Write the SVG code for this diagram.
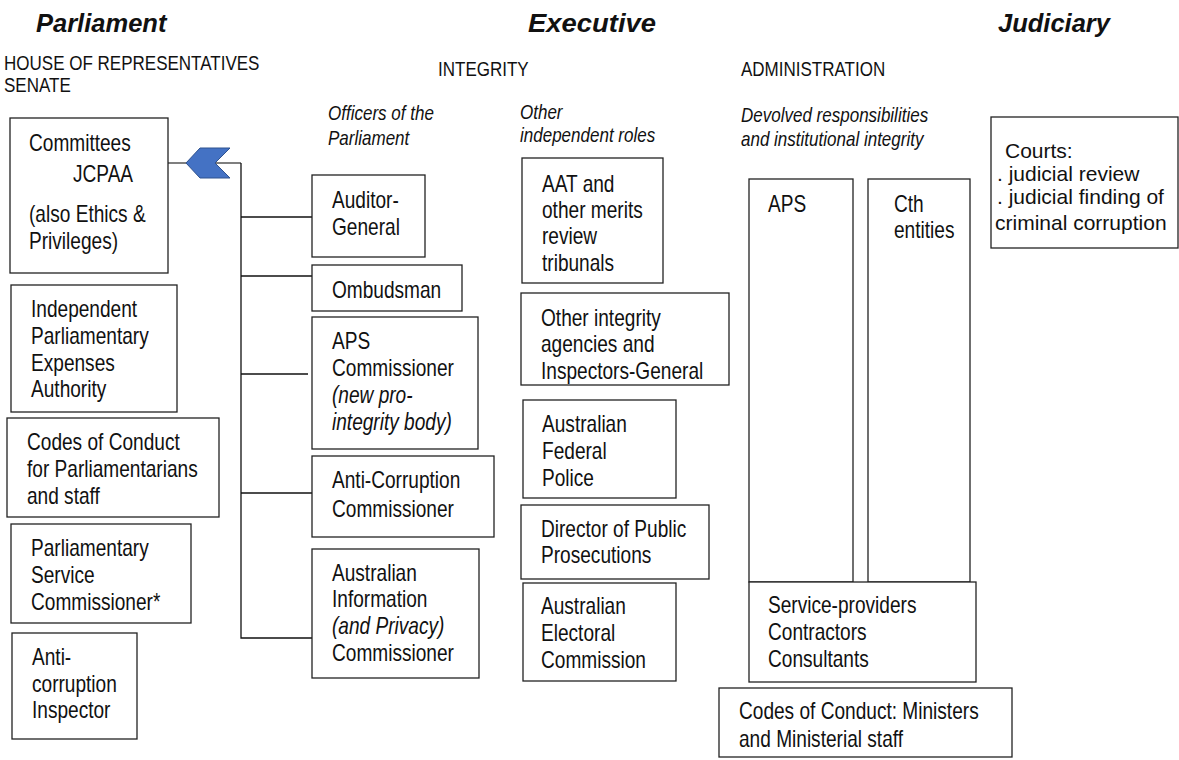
<svg xmlns="http://www.w3.org/2000/svg" width="1179" height="760" viewBox="0 0 1179 760">
<style>
text{font-family:"Liberation Sans",Arial,sans-serif;fill:#111}
.h{font-weight:bold;font-style:italic;font-size:25.5px}
.cap,.lab,.t{transform-box:fill-box;transform-origin:0 0;transform:scaleX(.83)}
.cap{font-size:20.5px}
.lab{font-size:20.5px;font-style:italic}
.t{font-size:23px}
.c{font-size:21px}
.i{font-style:italic}
.box{fill:#fff;stroke:#222;stroke-width:1.3}
.ln{fill:none;stroke:#111;stroke-width:1.3}
</style>
<rect width="1179" height="760" fill="#fff"/>
<g id="headings">
<text class="h" x="36" y="32">Parliament</text>
<text class="h" x="528" y="32" textLength="128" lengthAdjust="spacingAndGlyphs">Executive</text>
<text class="h" x="998" y="32">Judiciary</text>
<text class="cap" x="4" y="70">HOUSE OF REPRESENTATIVES</text>
<text class="cap" x="4" y="92">SENATE</text>
<text class="cap" x="438" y="76">INTEGRITY</text>
<text class="cap" x="741" y="76">ADMINISTRATION</text>
<text class="lab" x="328" y="120">Officers of the</text>
<text class="lab" x="328" y="145">Parliament</text>
<text class="lab" x="520" y="119">Other</text>
<text class="lab" x="520" y="142">independent roles</text>
<text class="lab" x="741" y="122">Devolved responsibilities</text>
<text class="lab" x="741" y="146">and institutional integrity</text>
</g>
<g id="connectors">
<line x1="168" y1="163" x2="241" y2="163" stroke="#555" stroke-width="1.3"/>
<polyline class="ln" points="241,163 241,638 312,638"/>
<line class="ln" x1="241" y1="217" x2="312" y2="217"/>
<line class="ln" x1="241" y1="276" x2="312" y2="276"/>
<line class="ln" x1="241" y1="374" x2="308" y2="374"/>
<line class="ln" x1="241" y1="493" x2="312" y2="493"/>
<polygon points="186,163 200,148 230,148 215,163 230,178 200,178" fill="#4472C4" stroke="#2F528F" stroke-width="1"/>
</g>
<g id="committees"><rect class="box" x="10" y="118" width="158" height="155"/>
<text class="t" x="29" y="151">Committees</text><text class="t" x="73" y="182">JCPAA</text>
<text class="t" x="29" y="222">(also Ethics &amp;</text><text class="t" x="29" y="249">Privileges)</text></g>
<g id="ipea"><rect class="box" x="11" y="285" width="166" height="127"/>
<text class="t" x="31" y="317">Independent</text><text class="t" x="31" y="344">Parliamentary</text>
<text class="t" x="31" y="371">Expenses</text><text class="t" x="31" y="397">Authority</text></g>
<g id="codes-parl"><rect class="box" x="7" y="418" width="212" height="99"/>
<text class="t" x="27" y="450">Codes of Conduct</text><text class="t" x="27" y="477">for Parliamentarians</text>
<text class="t" x="27" y="504">and staff</text></g>
<g id="psc"><rect class="box" x="11" y="524" width="180" height="99"/>
<text class="t" x="31" y="556">Parliamentary</text><text class="t" x="31" y="583">Service</text>
<text class="t" x="31" y="610">Commissioner*</text></g>
<g id="aci"><rect class="box" x="12" y="633" width="125" height="106"/>
<text class="t" x="32" y="665">Anti-</text><text class="t" x="32" y="692">corruption</text>
<text class="t" x="32" y="718">Inspector</text></g>
<g id="auditor"><rect class="box" x="312" y="175" width="113" height="82"/>
<text class="t" x="332" y="208">Auditor-</text><text class="t" x="332" y="235">General</text></g>
<g id="ombudsman"><rect class="box" x="312" y="265" width="150" height="46"/>
<text class="t" x="332" y="298">Ombudsman</text></g>
<g id="aps-commissioner"><rect class="box" x="312" y="317" width="166" height="132"/>
<text class="t" x="332" y="349">APS</text><text class="t" x="332" y="376">Commissioner</text>
<text class="t i" x="332" y="403">(new pro-</text><text class="t i" x="332" y="430">integrity body)</text></g>
<g id="anti-corruption"><rect class="box" x="312" y="456" width="182" height="81"/>
<text class="t" x="332" y="488">Anti-Corruption</text><text class="t" x="332" y="517">Commissioner</text></g>
<g id="info-commissioner"><rect class="box" x="312" y="549" width="167" height="129"/>
<text class="t" x="332" y="581">Australian</text><text class="t" x="332" y="607">Information</text>
<text class="t i" x="332" y="634">(and Privacy)</text><text class="t" x="332" y="661">Commissioner</text></g>
<g id="aat"><rect class="box" x="522" y="158" width="141" height="125"/>
<text class="t" x="542" y="192">AAT and</text><text class="t" x="542" y="218">other merits</text>
<text class="t" x="542" y="244">review</text><text class="t" x="542" y="271">tribunals</text></g>
<g id="other-integrity"><rect class="box" x="521" y="293" width="208" height="92"/>
<text class="t" x="541" y="326">Other integrity</text><text class="t" x="541" y="352">agencies and</text>
<text class="t" x="541" y="379">Inspectors-General</text></g>
<g id="afp"><rect class="box" x="523" y="400" width="153" height="98"/>
<text class="t" x="542" y="432">Australian</text><text class="t" x="542" y="459">Federal</text>
<text class="t" x="542" y="486">Police</text></g>
<g id="dpp"><rect class="box" x="521" y="505" width="188" height="74"/>
<text class="t" x="541" y="537">Director of Public</text><text class="t" x="541" y="563">Prosecutions</text></g>
<g id="aec"><rect class="box" x="523" y="583" width="153" height="98"/>
<text class="t" x="541" y="614">Australian</text><text class="t" x="541" y="641">Electoral</text>
<text class="t" x="541" y="668">Commission</text></g>
<g id="aps"><rect class="box" x="749" y="179" width="104" height="403"/>
<text class="t" x="768" y="212">APS</text></g>
<g id="cth"><rect class="box" x="868" y="179" width="102" height="403"/>
<text class="t" x="894" y="212">Cth</text><text class="t" x="894" y="238">entities</text></g>
<g id="service-providers"><rect class="box" x="749" y="582" width="227" height="100"/>
<text class="t" x="768" y="613">Service-providers</text><text class="t" x="768" y="640">Contractors</text>
<text class="t" x="768" y="667">Consultants</text></g>
<g id="codes-ministers"><rect class="box" x="719" y="688" width="293" height="69"/>
<text class="t" x="739" y="719">Codes of Conduct: Ministers</text><text class="t" x="739" y="747">and Ministerial staff</text></g>
<g id="courts"><rect class="box" x="991" y="117" width="187" height="131"/>
<text class="c" x="1005" y="158">Courts:</text>
<text class="c" x="997" y="181">.  judicial review</text>
<text class="c" x="997" y="204">.  judicial finding of</text>
<text class="c" x="995" y="230">criminal corruption</text></g>
</svg>
